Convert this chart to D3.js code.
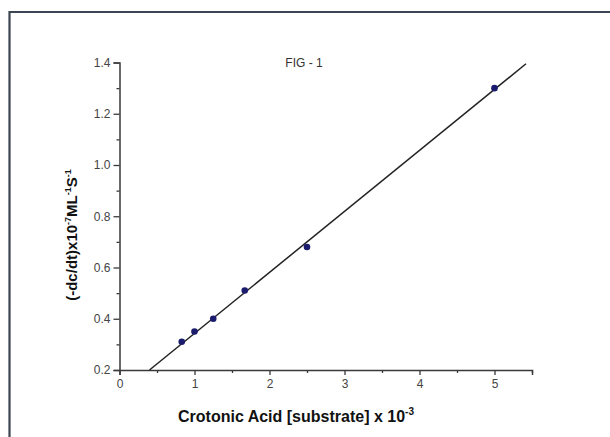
<!DOCTYPE html>
<html>
<head>
<meta charset="utf-8">
<script src="https://cdn.jsdelivr.net/npm/d3@7"></script>
<style>
  body { margin: 0; background: #fff; }
  text { font-family: Arial, "Liberation Sans", sans-serif; }
</style>
</head>
<body>
<div id="chart"></div>
<script>
// measured data points
const substrate = [0.83, 1.0, 1.25, 1.67, 2.5, 5.0];
const rate = [0.31, 0.35, 0.40, 0.51, 0.68, 1.30];

// fitted line, end points
const fitX = [0.40, 5.42];
const fitY = [0.20, 1.395];

const xTicks = [0, 1, 2, 3, 4, 5];
const yTicks = [0.2, 0.4, 0.6, 0.8, 1.0, 1.2, 1.4];
const xMinor = [0.5, 1.5, 2.5, 3.5, 4.5, 5.5];
const yMinor = [0.3, 0.5, 0.7, 0.9, 1.1, 1.3];

const width = 610;
const height = 437;

const svg = d3.select("#chart")
    .append("svg")
    .attr("width", width)
    .attr("height", height);

// outer frame (only top and left edges show)
svg.append("path")
    .attr("d", "M9.5,437V12H610")
    .attr("fill", "none")
    .attr("stroke", "#3c4552")
    .attr("stroke-width", 2.2);

const x = d3.scaleLinear().domain([0, 5.5]).range([119.5, 532]);
const y = d3.scaleLinear().domain([0.2, 1.4]).range([370, 62.5]);

// axes
svg.append("g")
    .attr("transform", `translate(0,${y(0.2)})`)
    .call(d3.axisBottom(x).tickValues(xTicks).tickSize(5).tickPadding(4).tickFormat(d3.format("d")));

svg.append("g")
    .attr("transform", `translate(0,${y(0.2)})`)
    .call(d3.axisBottom(x).tickValues(xMinor).tickSize(3).tickFormat(""))
    .call(g => g.select(".domain").remove());

svg.append("g")
    .attr("transform", `translate(${x(0)},0)`)
    .call(d3.axisLeft(y).tickValues(yTicks).tickSize(6).tickPadding(3).tickFormat(d3.format(".1f")));

svg.append("g")
    .attr("transform", `translate(${x(0)},0)`)
    .call(d3.axisLeft(y).tickValues(yMinor).tickSize(3).tickFormat(""))
    .call(g => g.select(".domain").remove());

svg.selectAll(".domain").attr("stroke", "#3a3a3a").attr("stroke-width", 1.5);
svg.selectAll(".tick line").attr("stroke", "#3a3a3a").attr("stroke-width", 1.3);
svg.selectAll(".tick text")
    .attr("fill", "#444")
    .style("font-size", "12px")
    .style("font-family", "Arial, 'Liberation Sans', sans-serif");

// fit line
svg.append("line")
    .attr("x1", x(fitX[0]))
    .attr("y1", y(fitY[0]))
    .attr("x2", x(fitX[1]))
    .attr("y2", y(fitY[1]))
    .attr("stroke", "#222")
    .attr("stroke-width", 1.5);

// data points
svg.selectAll("circle")
    .data(substrate)
    .enter().append("circle")
    .attr("cx", (d, i) => x(d))
    .attr("cy", (d, i) => y(rate[i]))
    .attr("r", 3.3)
    .attr("fill", "#1c1c6e");

// title
svg.append("text")
    .attr("x", 304)
    .attr("y", 67)
    .attr("text-anchor", "middle")
    .attr("fill", "#333")
    .style("font-size", "12px")
    .text("FIG - 1");

// x label
const xl = svg.append("text")
    .attr("x", 296)
    .attr("y", 422)
    .attr("text-anchor", "middle")
    .attr("fill", "#111")
    .style("font-size", "16px")
    .style("font-weight", "bold");
xl.append("tspan").text("Crotonic Acid [substrate] x 10");
xl.append("tspan").attr("dy", -7).style("font-size", "10px").text("-3");

// y label
const yl = svg.append("text")
    .attr("transform", "translate(77,235) rotate(-90)")
    .attr("text-anchor", "middle")
    .attr("fill", "#111")
    .style("font-size", "15px")
    .style("font-weight", "bold");
yl.append("tspan").text("(-dc/dt)x10");
yl.append("tspan").attr("dy", -6).style("font-size", "9px").text("-7");
yl.append("tspan").attr("dy", 6).text("ML");
yl.append("tspan").attr("dy", -6).style("font-size", "9px").text("-1");
yl.append("tspan").attr("dy", 6).text("S");
yl.append("tspan").attr("dy", -6).style("font-size", "9px").text("-1");
</script>
</body>
</html>
